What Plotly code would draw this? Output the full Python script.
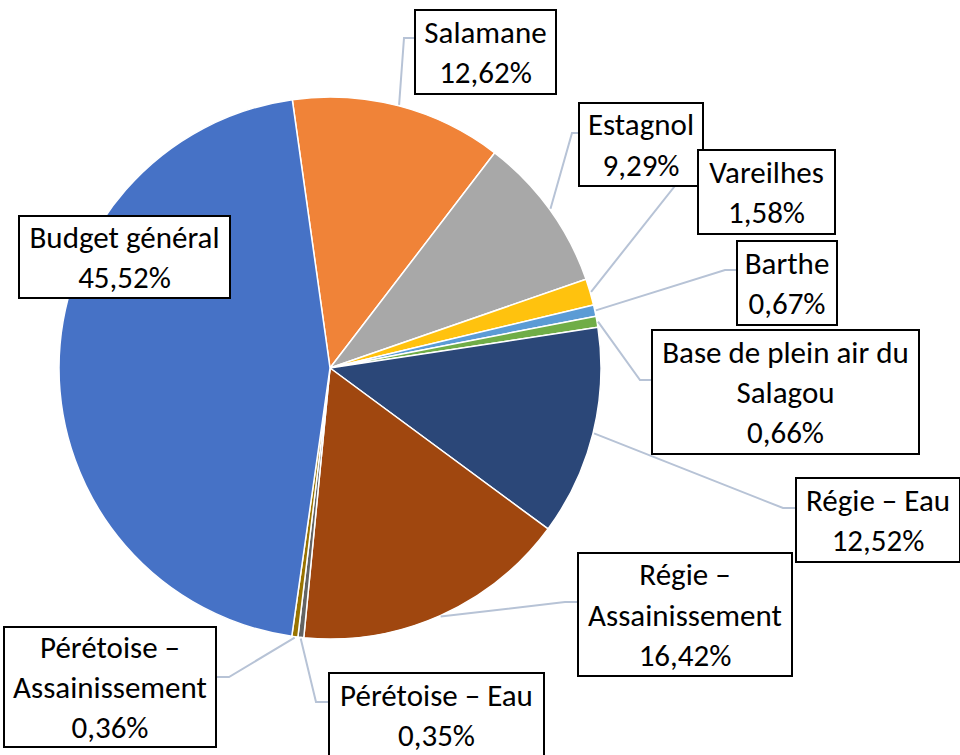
import math

import plotly.graph_objects as go

# ── Data ──────────────────────────────────────────────────────────────────────
labels = [
    "Salamane",
    "Estagnol",
    "Vareilhes",
    "Barthe",
    "Base de plein air du Salagou",
    "Régie – Eau",
    "Régie – Assainissement",
    "Pérétoise – Eau",
    "Pérétoise – Assainissement",
    "Budget général",
]
values = [12.62, 9.29, 1.58, 0.67, 0.66, 12.52, 16.42, 0.35, 0.36, 45.52]
# label text as wrapped in the callouts
label_lines = [
    ["Salamane"],
    ["Estagnol"],
    ["Vareilhes"],
    ["Barthe"],
    ["Base de plein air du", "Salagou"],
    ["Régie – Eau"],
    ["Régie –", "Assainissement"],
    ["Pérétoise – Eau"],
    ["Pérétoise –", "Assainissement"],
    ["Budget général"],
]
colors = [
    "#F08338", "#A8A8A8", "#FFC20E", "#5B9BD5", "#70AD47",
    "#2B4778", "#A0470F", "#636363", "#997300", "#4672C6",
]

# ── Layout constants (pixels in the 960x755 page) ─────────────────────────────
W, H = 960, 755
CX, CY, R = 330, 368, 271
ROTATION = -8

# callout boxes: (left, top, right, bottom), leader elbow and attach point
boxes = [
    (414, 9, 557, 95),
    (578, 102, 704, 187),
    (697, 149, 836, 235),
    (736, 240, 838, 326),
    (651, 329, 920, 455),
    (795, 477, 961, 563),
    (577, 552, 793, 677),
    (328, 672, 545, 758),
    (3, 626, 217, 748),
    (18, 215, 231, 299),
]
leaders = [
    ((404, 38), (414, 38)),
    ((572, 133), (578, 133)),
    ((686, 172), (697, 172)),
    ((725, 270), (736, 270)),
    ((640, 380), (651, 380)),
    ((783, 508), (795, 508)),
    ((565, 602), (577, 602)),
    ((316, 702), (328, 702)),
    ((229, 677), (217, 677)),
    None,
]


def px(x, y):
    return x / W, 1 - y / H


fig = go.Figure(
    go.Pie(
        labels=labels,
        values=values,
        sort=False,
        direction="clockwise",
        rotation=ROTATION,
        textinfo="none",
        hoverinfo="label+percent",
        marker=dict(colors=colors, line=dict(color="white", width=1.5)),
        domain=dict(
            x=[(CX - R) / W, (CX + R) / W],
            y=[1 - (CY + R) / H, 1 - (CY - R) / H],
        ),
    )
)

total = sum(values)
cum = 0.0
shapes = []
annotations = []
for i, v in enumerate(values):
    mid = ROTATION + 360 * (cum + v / 2) / total
    cum += v
    a = math.radians(mid)
    sx, sy = CX + (R + 1) * math.sin(a), CY - (R + 1) * math.cos(a)

    if leaders[i] is not None:
        (ex, ey), (tx, ty) = leaders[i]
        x0, y0 = px(sx, sy)
        x1, y1 = px(ex, ey)
        x2, y2 = px(tx, ty)
        shapes.append(
            dict(
                type="path",
                xref="paper", yref="paper",
                path=f"M {x0} {y0} L {x1} {y1} L {x2} {y2}",
                line=dict(color="#B7C3D6", width=2),
            )
        )

    l, t, r, b = boxes[i]
    pct = f"{v:.2f}%".replace(".", ",")
    text = "<br>".join(label_lines[i] + [pct])
    xc, yc = px((l + r) / 2, (t + b) / 2)
    annotations.append(
        dict(
            x=xc, y=yc, xref="paper", yref="paper",
            xanchor="center", yanchor="middle",
            text=text, showarrow=False,
            width=r - l - 4, height=b - t - 4,
            borderpad=0, borderwidth=2, bordercolor="black",
            bgcolor="white", align="center", valign="middle",
            font=dict(size=31, color="black"),
        )
    )

fig.update_layout(
    width=W,
    height=H,
    margin=dict(l=0, r=0, t=0, b=0),
    showlegend=False,
    paper_bgcolor="white",
    font=dict(family="Calibri, Carlito, Lato, sans-serif"),
    shapes=shapes,
    annotations=annotations,
)

# drop the default page margin so the figure sits at the window's corner
fig.write_html(
    "out.html",
    config={"displayModeBar": False},
    post_script="document.body.style.margin = '0';",
)
